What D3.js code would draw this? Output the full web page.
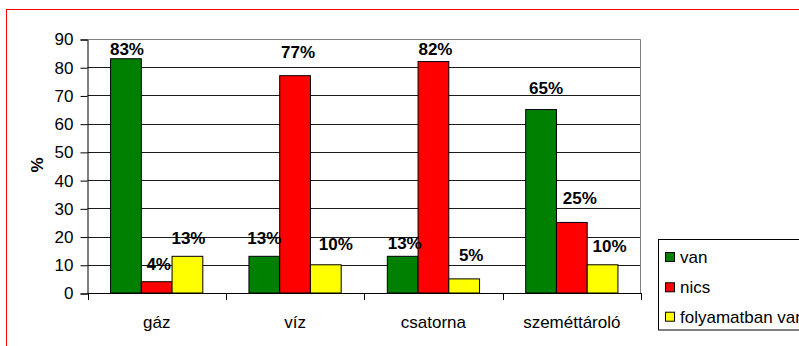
<!DOCTYPE html>
<html>
<head>
<meta charset="utf-8">
<script src="https://cdn.jsdelivr.net/npm/d3@7"></script>
<style>
  html, body { margin: 0; padding: 0; background: #fff; }
  svg { display: block; font-family: "Liberation Sans", Arial, sans-serif; }
</style>
</head>
<body>
<svg id="chart" width="799" height="346"></svg>
<script>
// Categories and series (percent)
const categories = ["gáz", "víz", "csatorna", "szeméttároló"];
const seriesNames = ["van", "nics", "folyamatban van"];
const vanValues = [83, 13, 13, 65];
const nicsValues = [4, 77, 82, 25];
const folyamatbanValues = [13, 10, 5, 10];
const yTicks = [0, 10, 20, 30, 40, 50, 60, 70, 80, 90];

// Per-label nudges [dx, dy] in px relative to the top centre of each bar
const labelNudge = [
  [[1, -10], [0, -18.3], [2, -13.6], [5, -21.6]],
  [[2, -18], [3, -24], [2, -12.6], [8, -24.7]],
  [[1, -18.3], [10, -21], [7, -23.5], [7, -19]]
];

const seriesValues = [vanValues, nicsValues, folyamatbanValues];
const colors = ["#008000", "#ff0000", "#ffff00"];
const fontSize = 17;

const svg = d3.select("#chart");
const plotLeft = 87.5, plotRight = 641, plotTop = 39, plotBottom = 293;

const x = d3.scaleBand().domain(categories).range([plotLeft, plotRight]).paddingInner(0).paddingOuter(0);
// group width: three bars plus a 150% gap split on both sides
const barW = x.bandwidth() / 4.5;
const y = d3.scaleLinear().domain([0, 90]).range([plotBottom, plotTop]);

// Outer chart frame
svg.append("rect")
  .attr("x", 6.5).attr("y", 9.5).attr("width", 900).attr("height", 400)
  .attr("fill", "none").attr("stroke", "#ff0000").attr("stroke-width", 1);

// Gridlines
svg.append("g").selectAll("line")
  .data(yTicks.filter(t => t > 0 && t < 90))
  .join("line")
  .attr("x1", plotLeft).attr("x2", plotRight)
  .attr("y1", d => Math.round(y(d)) + 0.5).attr("y2", d => Math.round(y(d)) + 0.5)
  .attr("stroke", "#1a1a1a").attr("stroke-width", 1);

// Plot border (top and right)
svg.append("path")
  .attr("d", `M${plotLeft},${plotTop + 0.5}H${plotRight - 0.5}V${plotBottom}`)
  .attr("fill", "none").attr("stroke", "#808080").attr("stroke-width", 1);

// Bars
seriesValues.forEach((vals, s) => {
  svg.append("g").selectAll("rect")
    .data(vals)
    .join("rect")
    .attr("x", (d, i) => x(categories[i]) + barW * 0.75 + s * barW)
    .attr("y", d => y(d))
    .attr("width", barW)
    .attr("height", d => y(0) - y(d))
    .attr("fill", colors[s])
    .attr("stroke", "#000").attr("stroke-width", 1);
});

// Y axis
const yAxis = d3.axisLeft(y).tickValues(yTicks).tickSize(7).tickPadding(7).tickFormat(d3.format("d"));
const gy = svg.append("g").attr("transform", `translate(${plotLeft},0.5)`).call(yAxis);
gy.select(".domain").attr("stroke", "#000");
gy.selectAll(".tick line").attr("stroke", "#000");
gy.selectAll(".tick text").attr("font-size", fontSize).attr("fill", "#000")
  .attr("font-family", "'Liberation Sans', Arial, sans-serif");

// X axis (ticks at category boundaries)
svg.append("line")
  .attr("x1", plotLeft).attr("x2", plotRight)
  .attr("y1", plotBottom + 0.5).attr("y2", plotBottom + 0.5)
  .attr("stroke", "#000");
const boundaries = categories.map(c => x(c)).concat([plotRight]);
svg.append("g").selectAll("line")
  .data(boundaries)
  .join("line")
  .attr("x1", d => Math.round(d) + 0.5).attr("x2", d => Math.round(d) + 0.5)
  .attr("y1", plotBottom).attr("y2", plotBottom + 7)
  .attr("stroke", "#000");
svg.append("g").selectAll("text")
  .data(categories)
  .join("text")
  .attr("x", d => x(d) + x.bandwidth() / 2)
  .attr("y", 321.7)
  .attr("dy", "0.35em")
  .attr("text-anchor", "middle")
  .attr("font-size", fontSize)
  .text(d => d);

// Y axis title
svg.append("text")
  .attr("transform", "translate(37.5,165) rotate(-90)")
  .attr("text-anchor", "middle")
  .attr("dy", "0.35em")
  .attr("font-size", fontSize)
  .attr("font-weight", "bold")
  .text("%");

// Value labels
seriesValues.forEach((vals, s) => {
  svg.append("g").selectAll("text")
    .data(vals)
    .join("text")
    .attr("x", (d, i) => x(categories[i]) + barW * 0.75 + s * barW + barW / 2 + labelNudge[s][i][0])
    .attr("y", (d, i) => y(d) + labelNudge[s][i][1])
    .attr("dy", "0.35em")
    .attr("text-anchor", "middle")
    .attr("font-size", fontSize)
    .attr("font-weight", "bold")
    .text(d => d + "%");
});

// Legend
const legend = svg.append("g");
legend.append("rect")
  .attr("x", 658.5).attr("y", 239.5).attr("width", 200).attr("height", 90.5)
  .attr("fill", "#fff").attr("stroke", "#000");
const rowY = [257, 287.3, 316.7];
seriesNames.forEach((name, s) => {
  legend.append("rect")
    .attr("x", 665.5).attr("y", rowY[s] - 4.5).attr("width", 9).attr("height", 9)
    .attr("fill", colors[s]).attr("stroke", "#000");
  legend.append("text")
    .attr("x", 680).attr("y", rowY[s]).attr("dy", "0.35em")
    .attr("font-size", fontSize)
    .text(name);
});
</script>
</body>
</html>
